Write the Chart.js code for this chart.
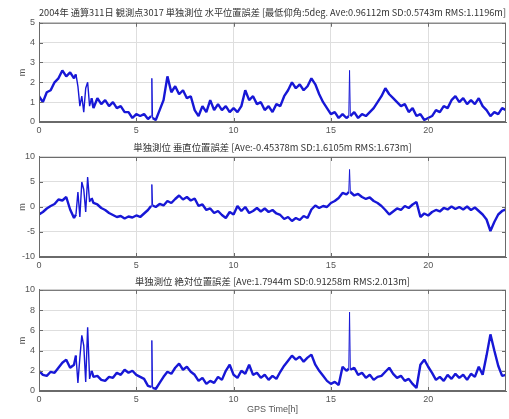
<!DOCTYPE html>
<html>
<head>
<meta charset="utf-8">
<title>単独測位 位置誤差</title>
<script src="https://cdn.jsdelivr.net/npm/chart.js@4.4.0/dist/chart.umd.min.js"></script>
<style>
body { margin: 0; background: #fff; }
#page { position: relative; width: 509px; height: 419px; overflow: hidden; }
canvas { position: absolute; left: 0; }
</style>
</head>
<body>
<div id="page">
  <canvas id="c1" width="509" height="140" style="top:0px"></canvas>
  <canvas id="c2" width="509" height="134" style="top:138px"></canvas>
  <canvas id="c3" width="509" height="147" style="top:272px"></canvas>
</div>
<script>
// GPS time in hours (extra samples around the spikes)
var hours = [0,0.2,0.4,0.6,0.8,1.0,1.2,1.4,1.6,1.8,
  1.9,2.0,2.1,2.2,2.3,2.4,2.5,2.6,2.7,2.8,
  3.0,3.2,3.4,3.6,3.8,4.0,4.2,4.4,4.6,4.8,5.0,5.2,5.4,5.6,
  5.76,5.8,5.84,
  6.0,6.2,6.4,6.6,6.8,7.0,7.2,7.4,7.6,7.8,8.0,8.2,8.4,8.6,8.8,9.0,9.2,9.4,9.6,9.8,
  10.0,10.2,10.4,10.6,10.8,11.0,11.2,11.4,11.6,11.8,12.0,12.2,12.4,12.6,12.8,13.0,13.2,13.4,13.6,13.8,
  14.0,14.2,14.4,14.6,14.8,15.0,15.2,15.4,15.6,15.8,
  15.92,15.96,
  16.0,16.2,16.4,16.6,16.8,17.0,17.2,17.4,17.6,17.8,18.0,18.2,18.4,18.6,18.8,19.0,19.2,19.4,19.6,19.8,
  20.0,20.2,20.4,20.6,20.8,21.0,21.2,21.4,21.6,21.8,22.0,22.2,22.4,22.6,22.8,23.0,23.2,23.4,23.6,23.8,24.0];

// single epochs with a jump (drawn with a thin line)
var spikeHours = [5.8, 15.96];

// horizontal error [m]
var horizErr = [1.3,1.0,1.5,1.6,2.0,2.2,2.6,2.3,2.5,2.2,
  2.4,1.8,0.8,1.3,0.5,1.7,2.0,0.8,1.2,0.7,
  1.2,0.9,1.1,0.8,1.0,0.7,0.8,0.5,0.5,0.2,0.4,0.3,0.4,0.15,
  0.3,2.2,0.2,
  0.1,0.6,1.1,2.3,1.5,1.8,1.4,1.6,1.2,1.3,0.6,0.3,0.8,0.5,1.1,0.6,0.9,0.6,0.8,0.5,
  0.7,0.5,0.8,1.6,1.1,1.3,0.9,1.0,0.6,0.8,0.5,0.9,0.8,1.3,1.6,2.0,1.7,1.9,1.6,1.8,
  2.2,1.9,1.4,1.0,0.7,0.4,0.5,0.2,0.4,0.2,
  0.3,2.6,
  0.3,0.5,0.2,0.4,0.3,0.5,0.7,1.0,1.3,1.7,1.4,1.2,1.0,0.8,0.9,0.5,0.7,0.3,0.4,0.1,
  0.2,0.3,0.6,0.5,0.8,0.7,1.1,1.3,1.0,1.2,0.9,1.1,0.9,1.2,0.8,0.6,0.3,0.5,0.4,0.7,0.6];

// vertical error [m]
var vertErr = [-1.5,-1.0,-0.3,0.2,0.6,1.5,1.3,2.0,-0.5,-2.2,
  -1.5,3.0,-2.0,5.0,3.5,-1.0,6.0,1.0,1.8,0.8,
  0.5,-0.2,-0.6,-1.2,-1.6,-2.0,-1.8,-2.3,-1.9,-2.1,-1.7,-2.0,-1.3,-0.6,
  0.2,4.5,0.3,
  0.0,0.6,0.3,1.2,0.8,1.6,2.3,1.5,2.0,1.3,1.7,0.2,0.5,-0.6,-0.3,-1.2,-0.8,-1.6,-2.2,-1.0,
  -1.5,0.2,-0.8,0.0,-1.2,-0.8,-0.2,-0.9,-0.3,-1.0,-0.6,-1.3,-1.6,-2.4,-2.0,-2.8,-2.2,-2.6,-1.8,-2.2,
  -0.5,0.3,-0.2,0.2,0.0,0.8,1.2,1.8,2.8,2.5,
  3.0,7.5,
  3.0,2.3,2.6,2.0,1.6,1.9,1.2,0.8,0.2,-0.6,-1.5,-0.9,-0.3,-0.6,0.2,-0.2,0.5,1.0,-2.0,-1.3,
  -1.7,-1.0,-0.6,-0.9,-0.2,-0.5,0.1,-0.4,0.0,-0.5,0.1,-0.6,-0.1,-0.8,-1.5,-2.5,-4.8,-3.0,-1.5,-0.8,-0.5];

// absolute error [m]
var absErr = [2.0,1.6,1.5,1.9,1.8,2.3,2.8,3.1,2.3,2.6,
  3.5,0.8,3.3,5.5,4.5,0.9,6.3,1.2,2.0,1.4,
  1.5,1.1,1.0,1.4,1.3,1.8,1.6,2.1,1.8,2.0,1.6,1.4,1.2,0.5,
  0.4,5.0,0.3,
  0.2,0.8,1.4,1.9,1.7,2.3,2.7,2.1,2.4,1.9,1.6,1.0,1.3,0.7,1.0,0.8,1.4,1.1,2.0,2.6,
  1.6,1.3,2.0,1.7,2.6,1.6,1.8,1.3,1.6,1.1,1.5,1.2,1.9,2.5,3.0,3.5,3.1,3.4,2.9,3.3,
  3.6,2.6,2.0,1.5,1.0,0.7,0.9,0.6,2.4,2.0,
  2.2,7.8,
  2.1,2.3,1.6,1.8,1.3,1.6,1.1,1.4,1.5,1.9,2.3,1.7,1.3,1.5,1.0,1.2,0.7,0.3,2.6,3.1,
  2.4,1.8,1.1,1.4,1.0,1.6,1.2,1.7,1.3,1.6,1.1,1.7,1.4,2.4,1.6,3.5,5.6,4.0,2.5,1.5,1.6];

var xTicks = [0, 5, 10, 15, 20];

var titles = [
  '2004年 通算311日 観測点3017 単独測位 水平位置誤差 [最低仰角:5deg. Ave:0.96112m SD:0.5743m RMS:1.1196m]',
  '単独測位 垂直位置誤差 [Ave:-0.45378m SD:1.6105m RMS:1.673m]',
  '単独測位 絶対位置誤差 [Ave:1.7944m SD:0.91258m RMS:2.013m]'
];

var tickFont = { family: 'Liberation Sans', size: 9 };
var titleFont = { family: 'Noto Sans CJK JP', size: 9.4, weight: 'normal' };

// box round the plot, with small inward tick marks like matlab
var framePlugin = {
  id: 'frame',
  afterDraw: function(chart) {
    var a = chart.chartArea;
    var ctx = chart.ctx;
    ctx.save();
    ctx.strokeStyle = '#6a6a6a';
    ctx.lineWidth = 1;
    ctx.strokeRect(a.left + 0.5, a.top + 0.5, a.right - a.left - 1, a.bottom - a.top - 1);
    ctx.beginPath();
    chart.scales.x.ticks.forEach(function(t) {
      var px = Math.round(chart.scales.x.getPixelForValue(t.value)) + 0.5;
      ctx.moveTo(px, a.top); ctx.lineTo(px, a.top + 4);
      ctx.moveTo(px, a.bottom); ctx.lineTo(px, a.bottom - 4);
    });
    chart.scales.y.ticks.forEach(function(t) {
      var py = Math.round(chart.scales.y.getPixelForValue(t.value)) + 0.5;
      ctx.moveTo(a.left, py); ctx.lineTo(a.left + 4, py);
      ctx.moveTo(a.right, py); ctx.lineTo(a.right - 4, py);
    });
    ctx.stroke();
    ctx.restore();
  }
};

function segWidth(ctx) {
  var h0 = hours[ctx.p0DataIndex], h1 = hours[ctx.p1DataIndex];
  if (spikeHours.indexOf(h0) >= 0 || spikeHours.indexOf(h1) >= 0) return 1;
  if (h0 >= 1.85 && h1 <= 2.75) return 1.4;
  return 2.4;
}

function makePanel(id, values, title, yMin, yMax, yStep, opts) {
  var pts = hours.map(function(h, i) { return { x: h, y: values[i] }; });
  return new Chart(document.getElementById(id), {
    type: 'line',
    data: {
      datasets: [{
        data: pts,
        borderColor: '#1717d6',
        borderWidth: 2.4,
        borderJoinStyle: 'bevel',
        pointRadius: 0,
        tension: 0,
        segment: { borderWidth: segWidth }
      }]
    },
    options: {
      responsive: false,
      animation: false,
      layout: { padding: { left: 0, right: 3, top: 0, bottom: 0 } },
      plugins: {
        legend: { display: false },
        tooltip: { enabled: false },
        title: {
          display: true,
          text: title,
          fullSize: false,
          color: '#333',
          font: titleFont,
          padding: opts.titlePad
        }
      },
      scales: {
        x: {
          type: 'linear',
          min: 0,
          max: 24,
          afterBuildTicks: function(s) {
            s.ticks = xTicks.map(function(v) { return { value: v }; });
          },
          afterFit: function(s) { s.height = opts.xHeight; },
          ticks: { font: tickFont, color: '#555', padding: 3, maxRotation: 0, autoSkip: false },
          grid: { color: '#dedede', drawTicks: false },
          border: { color: '#6a6a6a' },
          title: opts.xTitle ? {
            display: true,
            text: opts.xTitle,
            color: '#555',
            font: tickFont,
            padding: { top: 0, bottom: 4 }
          } : { display: false }
        },
        y: {
          min: yMin,
          max: yMax,
          afterFit: function(s) { s.width = 39; },
          ticks: { stepSize: yStep, font: tickFont, color: '#555', padding: 4 },
          grid: { color: '#dedede', drawTicks: false },
          border: { color: '#6a6a6a' },
          title: {
            display: true,
            text: 'm',
            color: '#555',
            font: tickFont,
            padding: { top: 17, bottom: 0 }
          }
        }
      }
    },
    plugins: [framePlugin]
  });
}

document.addEventListener('DOMContentLoaded', function() {
  makePanel('c1', horizErr, titles[0], 0, 5, 1,
    { titlePad: { top: 6.5, bottom: 5 }, xHeight: 18 });
  makePanel('c2', vertErr, titles[1], -10, 10, 5,
    { titlePad: { top: 4.2, bottom: 3.5 }, xHeight: 15 });
  makePanel('c3', absErr, titles[2], 0, 10, 2,
    { titlePad: { top: 3.6, bottom: 3 }, xHeight: 28, xTitle: 'GPS Time[h]' });
});
</script>
</body>
</html>
